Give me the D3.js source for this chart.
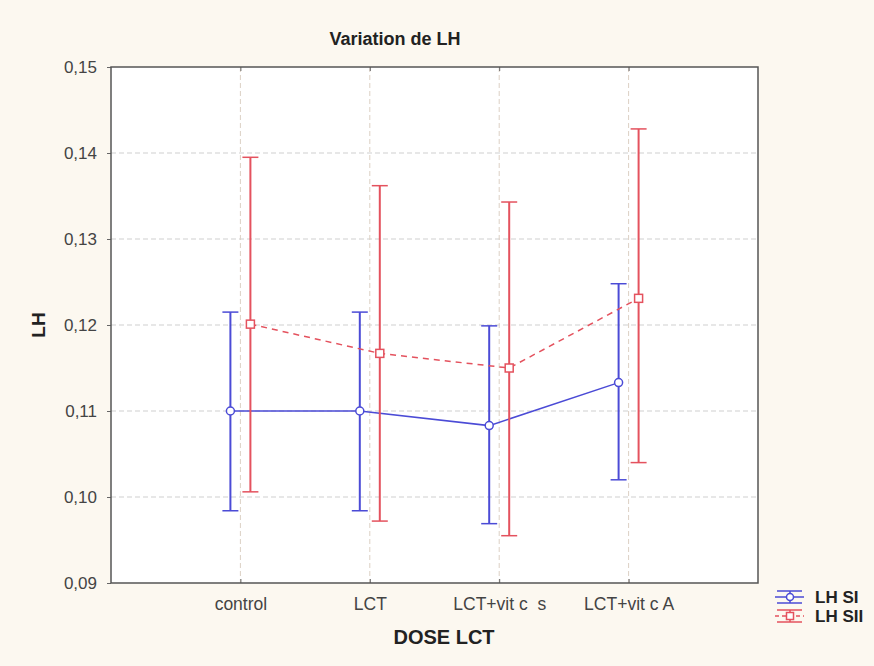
<!DOCTYPE html>
<html>
<head>
<meta charset="utf-8">
<script src="https://cdn.jsdelivr.net/npm/d3@7"></script>
<style>
  body { margin: 0; background: #fcf8f0; }
  text { font-family: "Liberation Sans", Arial, sans-serif; }
</style>
</head>
<body>
<div id="chart"></div>
<script>
// data
var categories = ["control", "LCT", "LCT+vit c  s", "LCT+vit c A"];
var siMean = [0.1100, 0.1100, 0.1083, 0.1133];
var siLow  = [0.0984, 0.0984, 0.0969, 0.1020];
var siHigh = [0.1215, 0.1215, 0.1199, 0.1248];
var siiMean = [0.1201, 0.1167, 0.1150, 0.1231];
var siiLow  = [0.1006, 0.0972, 0.0955, 0.1040];
var siiHigh = [0.1395, 0.1362, 0.1343, 0.1428];
var yTicks = [0.09, 0.10, 0.11, 0.12, 0.13, 0.14, 0.15];

var W = 874, H = 666;
var plotL = 111, plotR = 758, plotT = 67, plotB = 583;

var svg = d3.select("#chart").append("svg")
    .attr("width", W)
    .attr("height", H);

svg.append("rect").attr("width", W).attr("height", H).attr("fill", "#fcf8f0");

var x = d3.scaleLinear().domain([0, categories.length + 1]).range([plotL, plotR]);
var y = d3.scaleLinear().domain([0.09, 0.15]).range([plotB, plotT]);

// plot area
svg.append("rect")
    .attr("x", plotL).attr("y", plotT)
    .attr("width", plotR - plotL).attr("height", plotB - plotT)
    .attr("fill", "#ffffff");

// grid
svg.append("g").selectAll("line")
    .data(yTicks.slice(1, -1))
    .enter().append("line")
    .attr("x1", plotL).attr("x2", plotR)
    .attr("y1", function(d) { return y(d); })
    .attr("y2", function(d) { return y(d); })
    .attr("stroke", "#cfcfcf")
    .attr("stroke-dasharray", "5,3")
    .attr("stroke-width", 1);

svg.append("g").selectAll("line")
    .data(categories)
    .enter().append("line")
    .attr("x1", function(d, i) { return x(i + 1); })
    .attr("x2", function(d, i) { return x(i + 1); })
    .attr("y1", plotT).attr("y2", plotB)
    .attr("stroke", "#dcd0c4")
    .attr("stroke-dasharray", "5,3")
    .attr("stroke-width", 1);

// axes
var fmt = function(d) { return d3.format(".2f")(d).replace(".", ","); };

var yAxis = svg.append("g")
    .attr("transform", "translate(" + plotL + ",0)")
    .call(d3.axisLeft(y).tickValues(yTicks).tickFormat(fmt).tickSize(4).tickPadding(10));
yAxis.select(".domain").remove();
yAxis.selectAll("line").attr("stroke", "#666");
yAxis.selectAll("text").attr("font-size", "17px").attr("fill", "#444");

var xAxis = svg.append("g")
    .attr("transform", "translate(0," + plotB + ")")
    .call(d3.axisBottom(x).tickValues(d3.range(1, categories.length + 1))
        .tickFormat(function(d) { return categories[d - 1]; })
        .tickSize(-4).tickPadding(15));
xAxis.select(".domain").remove();
xAxis.selectAll("line").attr("stroke", "#666");
xAxis.selectAll("text").attr("font-size", "17.5px").attr("fill", "#444").style("white-space", "pre");

var xTop = svg.append("g")
    .attr("transform", "translate(0," + plotT + ")")
    .call(d3.axisTop(x).tickValues(d3.range(1, categories.length + 1)).tickFormat("").tickSize(-4));
xTop.select(".domain").remove();
xTop.selectAll("line").attr("stroke", "#666");

// frame
svg.append("rect")
    .attr("x", plotL).attr("y", plotT)
    .attr("width", plotR - plotL).attr("height", plotB - plotT)
    .attr("fill", "none")
    .attr("stroke", "#555")
    .attr("stroke-width", 1.5);

// series
var series = [
    {name: "LH SI", mean: siMean, low: siLow, high: siHigh, color: "#4b4bd6", dx: -10, dash: null, shape: "circle"},
    {name: "LH SII", mean: siiMean, low: siiLow, high: siiHigh, color: "#e4525e", dx: 10, dash: "6,5", shape: "square"}
];

var line = d3.line()
    .x(function(d) { return d.x; })
    .y(function(d) { return y(d.v); });

series.forEach(function(s) {
    var pts = s.mean.map(function(v, i) {
        return {x: x(i + 1) + s.dx, v: v, lo: s.low[i], hi: s.high[i]};
    });
    var g = svg.append("g");

    g.selectAll(".bar").data(pts).enter().append("line")
        .attr("x1", function(d) { return d.x; })
        .attr("x2", function(d) { return d.x; })
        .attr("y1", function(d) { return y(d.lo); })
        .attr("y2", function(d) { return y(d.hi); })
        .attr("stroke", s.color)
        .attr("stroke-width", 2);

    ["lo", "hi"].forEach(function(k) {
        g.selectAll(".cap-" + k).data(pts).enter().append("line")
            .attr("x1", function(d) { return d.x - 8; })
            .attr("x2", function(d) { return d.x + 8; })
            .attr("y1", function(d) { return y(d[k]); })
            .attr("y2", function(d) { return y(d[k]); })
            .attr("stroke", s.color)
            .attr("stroke-width", 1.5);
    });

    g.append("path")
        .attr("d", line(pts))
        .attr("fill", "none")
        .attr("stroke", s.color)
        .attr("stroke-width", 1.5)
        .attr("stroke-dasharray", s.dash);

    if (s.shape === "circle") {
        g.selectAll(".pt").data(pts).enter().append("circle")
            .attr("cx", function(d) { return d.x; })
            .attr("cy", function(d) { return y(d.v); })
            .attr("r", 4)
            .attr("fill", "#fff")
            .attr("stroke", s.color)
            .attr("stroke-width", 1.5);
    } else {
        g.selectAll(".pt").data(pts).enter().append("rect")
            .attr("x", function(d) { return d.x - 4; })
            .attr("y", function(d) { return y(d.v) - 4; })
            .attr("width", 8).attr("height", 8)
            .attr("fill", "#fff")
            .attr("stroke", s.color)
            .attr("stroke-width", 1.5);
    }
});

// titles
svg.append("text")
    .attr("x", 395).attr("y", 45)
    .attr("text-anchor", "middle")
    .attr("font-size", "18px").attr("font-weight", "bold").attr("fill", "#222")
    .text("Variation de LH");

svg.append("text")
    .attr("x", 444).attr("y", 644)
    .attr("text-anchor", "middle")
    .attr("font-size", "20px").attr("font-weight", "bold").attr("fill", "#222")
    .text("DOSE LCT");

svg.append("text")
    .attr("transform", "translate(45," + (y(0.12)) + ") rotate(-90)")
    .attr("text-anchor", "middle")
    .attr("font-size", "19px").attr("font-weight", "bold").attr("fill", "#222")
    .text("LH");

// legend
var legend = svg.append("g").attr("transform", "translate(775,597)");
series.forEach(function(s, i) {
    var g = legend.append("g").attr("transform", "translate(0," + (i * 19) + ")");
    [-6, 6].forEach(function(dy) {
        g.append("line").attr("x1", 2).attr("x2", 27).attr("y1", dy).attr("y2", dy)
            .attr("stroke", s.color).attr("stroke-width", 1.5);
    });
    g.append("line").attr("x1", 15).attr("x2", 15).attr("y1", -6).attr("y2", 6)
        .attr("stroke", s.color).attr("stroke-width", 1.5);
    g.append("line").attr("x1", 0).attr("x2", 29).attr("y1", 0).attr("y2", 0)
        .attr("stroke", s.color).attr("stroke-width", 1.5)
        .attr("stroke-dasharray", s.dash ? "4,3" : null);
    if (s.shape === "circle") {
        g.append("circle").attr("cx", 15).attr("cy", 0).attr("r", 3.5)
            .attr("fill", "#fff").attr("stroke", s.color).attr("stroke-width", 1.5);
    } else {
        g.append("rect").attr("x", 11.5).attr("y", -3.5).attr("width", 7).attr("height", 7)
            .attr("fill", "#fff").attr("stroke", s.color).attr("stroke-width", 1.5);
    }
    g.append("text").attr("x", 40).attr("y", 6)
        .attr("font-size", "17px").attr("font-weight", "bold").attr("fill", "#222")
        .text(s.name);
});
</script>
</body>
</html>
